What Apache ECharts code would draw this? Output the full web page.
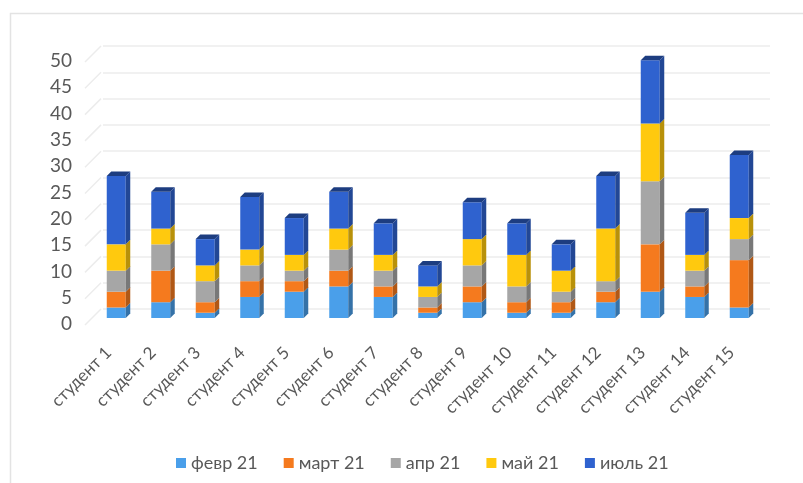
<!DOCTYPE html>
<html><head><meta charset="utf-8">
<script src="https://cdn.jsdelivr.net/npm/echarts@6/dist/echarts.min.js"></script>
<style>html,body{margin:0;padding:0;background:#fff}#c{width:803px;height:483px}</style>
</head><body><div id="c"></div>
<script>
const categories = ['студент 1','студент 2','студент 3','студент 4','студент 5','студент 6','студент 7','студент 8','студент 9','студент 10','студент 11','студент 12','студент 13','студент 14','студент 15'];
const feb = [2,3,1,4,5,6,4,1,3,1,1,3,5,4,2];
const mar = [3,6,2,3,2,3,2,1,3,2,2,2,9,2,9];
const apr = [4,5,4,3,2,4,3,2,4,3,2,2,12,3,4];
const may = [5,3,3,3,3,4,3,2,5,6,4,10,11,3,4];
const jul = [13,7,5,10,7,7,6,4,7,6,5,10,12,8,12];
const seriesNames = ['февр 21','март 21','апр 21','май 21','июль 21'];
const yTicks = [0,5,10,15,20,25,30,35,40,45,50];
const colors = ['#4A9FEA','#F57A1E','#A6A6A6','#FFC90E','#2F62CF'];
const FONT = 'Lato';

function darken(hex, f) {
  const n = parseInt(hex.slice(1), 16);
  const r = Math.round(((n >> 16) & 255) * f), g = Math.round(((n >> 8) & 255) * f), b = Math.round((n & 255) * f);
  return 'rgb(' + r + ',' + g + ',' + b + ')';
}

const allSeries = [feb, mar, apr, may, jul];
const bases = categories.map(() => 0);
const barSeries = allSeries.map((vals, k) => {
  const data = categories.map((c, i) => {
    const b = bases[i];
    const t = b + vals[i];
    bases[i] = t;
    return [i, b, t];
  });
  const col = colors[k];
  const side = darken(col, 0.72);
  const top = darken(col, 0.62);
  return {
    type: 'custom', name: seriesNames[k], xAxisIndex: 0, yAxisIndex: 0,
    itemStyle: { color: col },
    encode: { x: 0, y: [1, 2] },
    data: data,
    z: 10 + k,
    renderItem: function (params, api) {
      const i = api.value(0), b = api.value(1), t = api.value(2);
      const p0 = api.coord([i, b]);
      const p1 = api.coord([i, t]);
      const w = 19, d = 4.5;
      const xL = p0[0] - w / 2, xR = xL + w;
      const yB = p0[1], yT = p1[1];
      const children = [
        { type: 'rect', shape: { x: xL, y: yT, width: w, height: yB - yT }, style: { fill: col } },
        { type: 'polygon', shape: { points: [[xR, yT], [xR + d, yT - d], [xR + d, yB - d], [xR, yB]] }, style: { fill: side } }
      ];
      if (k === allSeries.length - 1) {
        children.push({ type: 'polygon', shape: { points: [[xL, yT], [xL + d, yT - d], [xR + d, yT - d], [xR, yT]] }, style: { fill: top } });
      }
      return { type: 'group', children: children };
    }
  };
});

const wallSeries = {
  type: 'custom', name: 'wall', xAxisIndex: 1, yAxisIndex: 1, silent: true,
  data: yTicks.map(v => [0, v]),
  encode: { x: 0, y: 1 },
  z: 1,
  renderItem: function (params, api) {
    const p = api.coord([0, api.value(1)]);
    return { type: 'line', shape: { x1: p[0] - 2, y1: p[1], x2: p[0] - 18, y2: p[1] + 16 }, style: { stroke: '#ececec', lineWidth: 1.5 } };
  }
};

const chart = echarts.init(document.getElementById('c'), null, { renderer: 'canvas' });
chart.setOption({
  animation: false,
  backgroundColor: '#ffffff',
  textStyle: { fontFamily: FONT },
  graphic: [{
    type: 'rect', silent: true, z: -10,
    shape: { x: 10.5, y: 13.5, width: 800, height: 480 },
    style: { fill: 'none', stroke: '#e3e3e3', lineWidth: 1.5 }
  }],
  legend: {
    data: seriesNames, icon: 'rect', itemWidth: 10, itemHeight: 10, itemGap: 26,
    left: 171, top: 449,
    textStyle: { fontSize: 18, color: '#595959', fontFamily: FONT }
  },
  grid: [
    { left: 94, right: 41.5, top: 55, height: 263 },
    { left: 103, right: 33, top: 46, height: 263 },
    { left: 80, right: 41.5, top: 61, height: 263 }
  ],
  xAxis: [
    { type: 'category', gridIndex: 0, data: categories,
      axisLine: { show: false }, axisTick: { show: false },
      axisLabel: { rotate: 45, interval: 0, margin: 24, padding: [0, 11, 0, 0], fontSize: 17, color: '#595959', fontFamily: FONT } },
    { type: 'value', gridIndex: 1, min: 0, max: 1, show: false },
    { type: 'value', gridIndex: 2, min: 0, max: 1, show: false }
  ],
  yAxis: [
    { type: 'value', gridIndex: 0, min: 0, max: 50, interval: 5, show: false },
    { type: 'value', gridIndex: 1, min: 0, max: 50, interval: 5,
      axisLine: { show: false }, axisTick: { show: false }, axisLabel: { show: false },
      splitLine: { lineStyle: { color: '#ececec', width: 1.5 } } },
    { type: 'value', gridIndex: 2, min: 0, max: 50, interval: 5,
      axisLine: { show: false }, axisTick: { show: false }, splitLine: { show: false },
      axisLabel: { margin: 8, fontSize: 19, color: '#595959', fontFamily: FONT } }
  ],
  series: [wallSeries].concat(barSeries)
});
</script>
</body></html>
